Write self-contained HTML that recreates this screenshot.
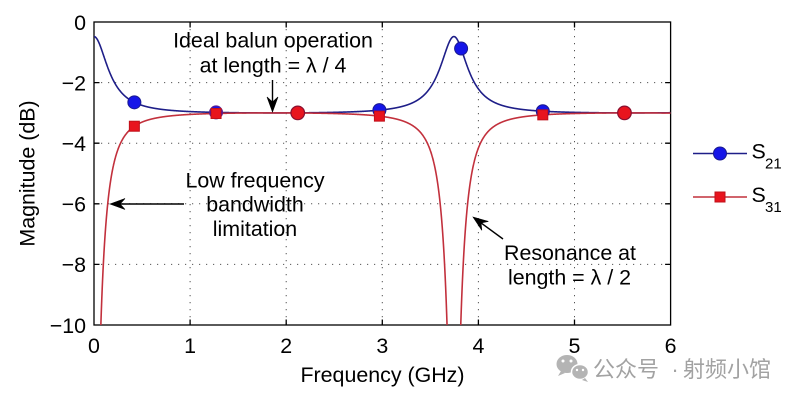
<!DOCTYPE html>
<html><head><meta charset="utf-8"><style>
html,body{margin:0;padding:0;background:#fff;width:800px;height:401px;overflow:hidden;}
svg{display:block;}
text{font-family:"Liberation Sans",Arial,sans-serif;fill:#000;}
.cjk{font-family:"Liberation Sans","Noto Sans CJK SC","WenQuanYi Zen Hei",sans-serif;fill:#a2a2a2;}
</style></head><body>
<svg id="s" width="800" height="401" viewBox="0 0 800 401" xmlns="http://www.w3.org/2000/svg">
<defs><clipPath id="c"><rect x="94" y="22" width="576.6" height="303"/></clipPath></defs>
<rect width="800" height="401" fill="#fff"/>
<g stroke="#555" stroke-width="1" stroke-dasharray="1.2 5.8" fill="none">
<line x1="190.1" y1="22" x2="190.1" y2="325"/>
<line x1="286.2" y1="22" x2="286.2" y2="325"/>
<line x1="382.3" y1="22" x2="382.3" y2="325"/>
<line x1="478.4" y1="22" x2="478.4" y2="325"/>
<line x1="574.5" y1="22" x2="574.5" y2="325"/>
<line x1="94" y1="82.6" x2="670.6" y2="82.6"/>
<line x1="94" y1="143.2" x2="670.6" y2="143.2"/>
<line x1="94" y1="203.8" x2="670.6" y2="203.8"/>
<line x1="94" y1="264.4" x2="670.6" y2="264.4"/>
</g>
<g stroke="#000" stroke-width="1.3" fill="none">
<rect x="94" y="22" width="576.6" height="303"/>
<path d="M190.1 325v-5.5M286.2 325v-5.5M382.3 325v-5.5M478.4 325v-5.5M574.5 325v-5.5
M190.1 22v5.5M286.2 22v5.5M382.3 22v5.5M478.4 22v5.5M574.5 22v5.5
M94 82.6h5.5M94 143.2h5.5M94 203.8h5.5M94 264.4h5.5
M670.6 82.6h-5.5M670.6 143.2h-5.5M670.6 203.8h-5.5M670.6 264.4h-5.5"/>
</g>
<g font-size="21.4" text-anchor="end">
<text x="86" y="30">0</text>
<text x="86" y="90.4">−2</text>
<text x="86" y="151">−4</text>
<text x="86" y="211.6">−6</text>
<text x="86" y="272.2">−8</text>
<text x="86" y="332.8">−10</text>
</g>
<g font-size="21.4" text-anchor="middle">
<text x="94" y="353">0</text>
<text x="190.1" y="353">1</text>
<text x="286.2" y="353">2</text>
<text x="382.3" y="353">3</text>
<text x="478.4" y="353">4</text>
<text x="574.5" y="353">5</text>
<text x="670.6" y="353">6</text>
<text x="382.5" y="382">Frequency (GHz)</text>
<text transform="translate(34.5,173.5) rotate(-90)">Magnitude (dB)</text>
<text x="273" y="47.5">Ideal balun operation</text>
<text x="273" y="72.5">at length = λ / 4</text>
<text x="255" y="187.5">Low frequency</text>
<text x="255" y="211.5">bandwidth</text>
<text x="255" y="236">limitation</text>
<text x="570" y="260">Resonance at</text>
<text x="569.5" y="284.5">length = λ / 2</text>
</g>
<g clip-path="url(#c)">
<path id="pb" fill="none" stroke="#1e1e88" stroke-width="1.6"/>
<path id="pr" fill="none" stroke="#c2303c" stroke-width="1.6"/>
</g>
<g id="mk"></g>
<g id="ar" fill="#000" stroke="#000" stroke-width="1.4"></g>
<!-- legend -->
<line x1="693" y1="153.5" x2="747" y2="153.5" stroke="#1e1e88" stroke-width="1.6"/>
<circle cx="720" cy="153.5" r="6.5" fill="#1515e8" stroke="#1a1a90" stroke-width="1"/>
<line x1="693" y1="197" x2="747" y2="197" stroke="#c2303c" stroke-width="1.6"/>
<rect x="715" y="192" width="10" height="10" fill="#e8141e" stroke="#c0101a" stroke-width="1"/>
<text x="751.5" y="158.3" font-size="21.4">S</text>
<text x="765" y="168.3" font-size="15">21</text>
<text x="751.5" y="201.8" font-size="21.4">S</text>
<text x="765" y="211.8" font-size="15">31</text>
<!-- watermark -->
<g fill="#b4b4b4">
<ellipse cx="567" cy="364" rx="10.5" ry="9"/>
<ellipse cx="580" cy="372" rx="8.5" ry="7.5" stroke="#fff" stroke-width="1.5"/>
<path d="M561 371l-3 5l7-3z"/>
<path d="M585 378l3 4l-6-2z"/>
</g>
<g fill="#fff"><circle cx="563" cy="361" r="1.5"/><circle cx="571" cy="361" r="1.5"/><circle cx="577" cy="370" r="1.2"/><circle cx="583" cy="370" r="1.2"/></g>
<text class="cjk" x="593" y="377" font-size="22">公众号</text>
<text class="cjk" x="675" y="377" font-size="22" text-anchor="middle">·</text>
<text class="cjk" x="683" y="377" font-size="22">射频小馆</text>
</svg>
<script>
(function(){
var X=function(f){return 94+f*96.1;},Y=function(d){return 22-d*30.3;};
var th=function(f){return Math.PI/2*f/1.8725;};
function blue(f){var t=Math.tan(th(f));var t2=t*t;return -3+10*Math.log10(1+0.786*0.0161/(t2+0.0161));}
function red(f){var t=Math.tan(th(f));var t2=t*t;var g=t2/(t2+0.0144);var d=-3+10*Math.log10(Math.max(g,1e-7));return Math.max(d,-10.8);}
var pb="",pr="";
for(var i=0;i<=6000;i++){var f=i/1000;
 pb+=(i?"L":"M")+X(f).toFixed(2)+" "+Y(blue(f)).toFixed(2);
 pr+=(i?"L":"M")+X(f).toFixed(2)+" "+Y(red(f)).toFixed(2);}
document.getElementById("pb").setAttribute("d",pb);
document.getElementById("pr").setAttribute("d",pr);
var ns="http://www.w3.org/2000/svg",mk=document.getElementById("mk");
function el(n,a){var e=document.createElementNS(ns,n);for(var k in a)e.setAttribute(k,a[k]);mk.appendChild(e);}
var fs=[0.42,1.27,2.12,2.97,3.82,4.67,5.52];
fs.forEach(function(f){
 var x=X(f),yb=Y(blue(f)),yr=Y(red(f));
 if(f==2.12||f==5.52){el("circle",{cx:x,cy:(yb+yr)/2,r:6.8,fill:"#e8141e",stroke:"#8a1030","stroke-width":1.2});return;}
 el("circle",{cx:x,cy:yb,r:6.5,fill:"#1515e8",stroke:(f==1.27?"#5a2090":"#1a1a90"),"stroke-width":1});
 if(f!=3.82) el("rect",{x:x-5,y:yr-5,width:10,height:10,fill:"#e8141e",stroke:"#c0101a","stroke-width":1});
});
var ar=document.getElementById("ar");
function arrow(x1,y1,x2,y2){
 var dx=x2-x1,dy=y2-y1,L=Math.sqrt(dx*dx+dy*dy),ux=dx/L,uy=dy/L,px=-uy,py=ux;
 var hl=15,hw=5.5,nd=10;
 var l=document.createElementNS(ns,"line");
 l.setAttribute("x1",x1);l.setAttribute("y1",y1);l.setAttribute("x2",x2-ux*nd);l.setAttribute("y2",y2-uy*nd);ar.appendChild(l);
 var p=document.createElementNS(ns,"polygon");
 var pts=[[x2,y2],[x2-ux*hl+px*hw,y2-uy*hl+py*hw],[x2-ux*nd,y2-uy*nd],[x2-ux*hl-px*hw,y2-uy*hl-py*hw]];
 p.setAttribute("points",pts.map(function(q){return q[0].toFixed(2)+","+q[1].toFixed(2);}).join(" "));
 p.setAttribute("stroke-width","0.6");ar.appendChild(p);
}
arrow(272.5,80,272.5,112);
arrow(184,204,110,204);
arrow(503,239,473,217);
})();
</script>
</body></html>
